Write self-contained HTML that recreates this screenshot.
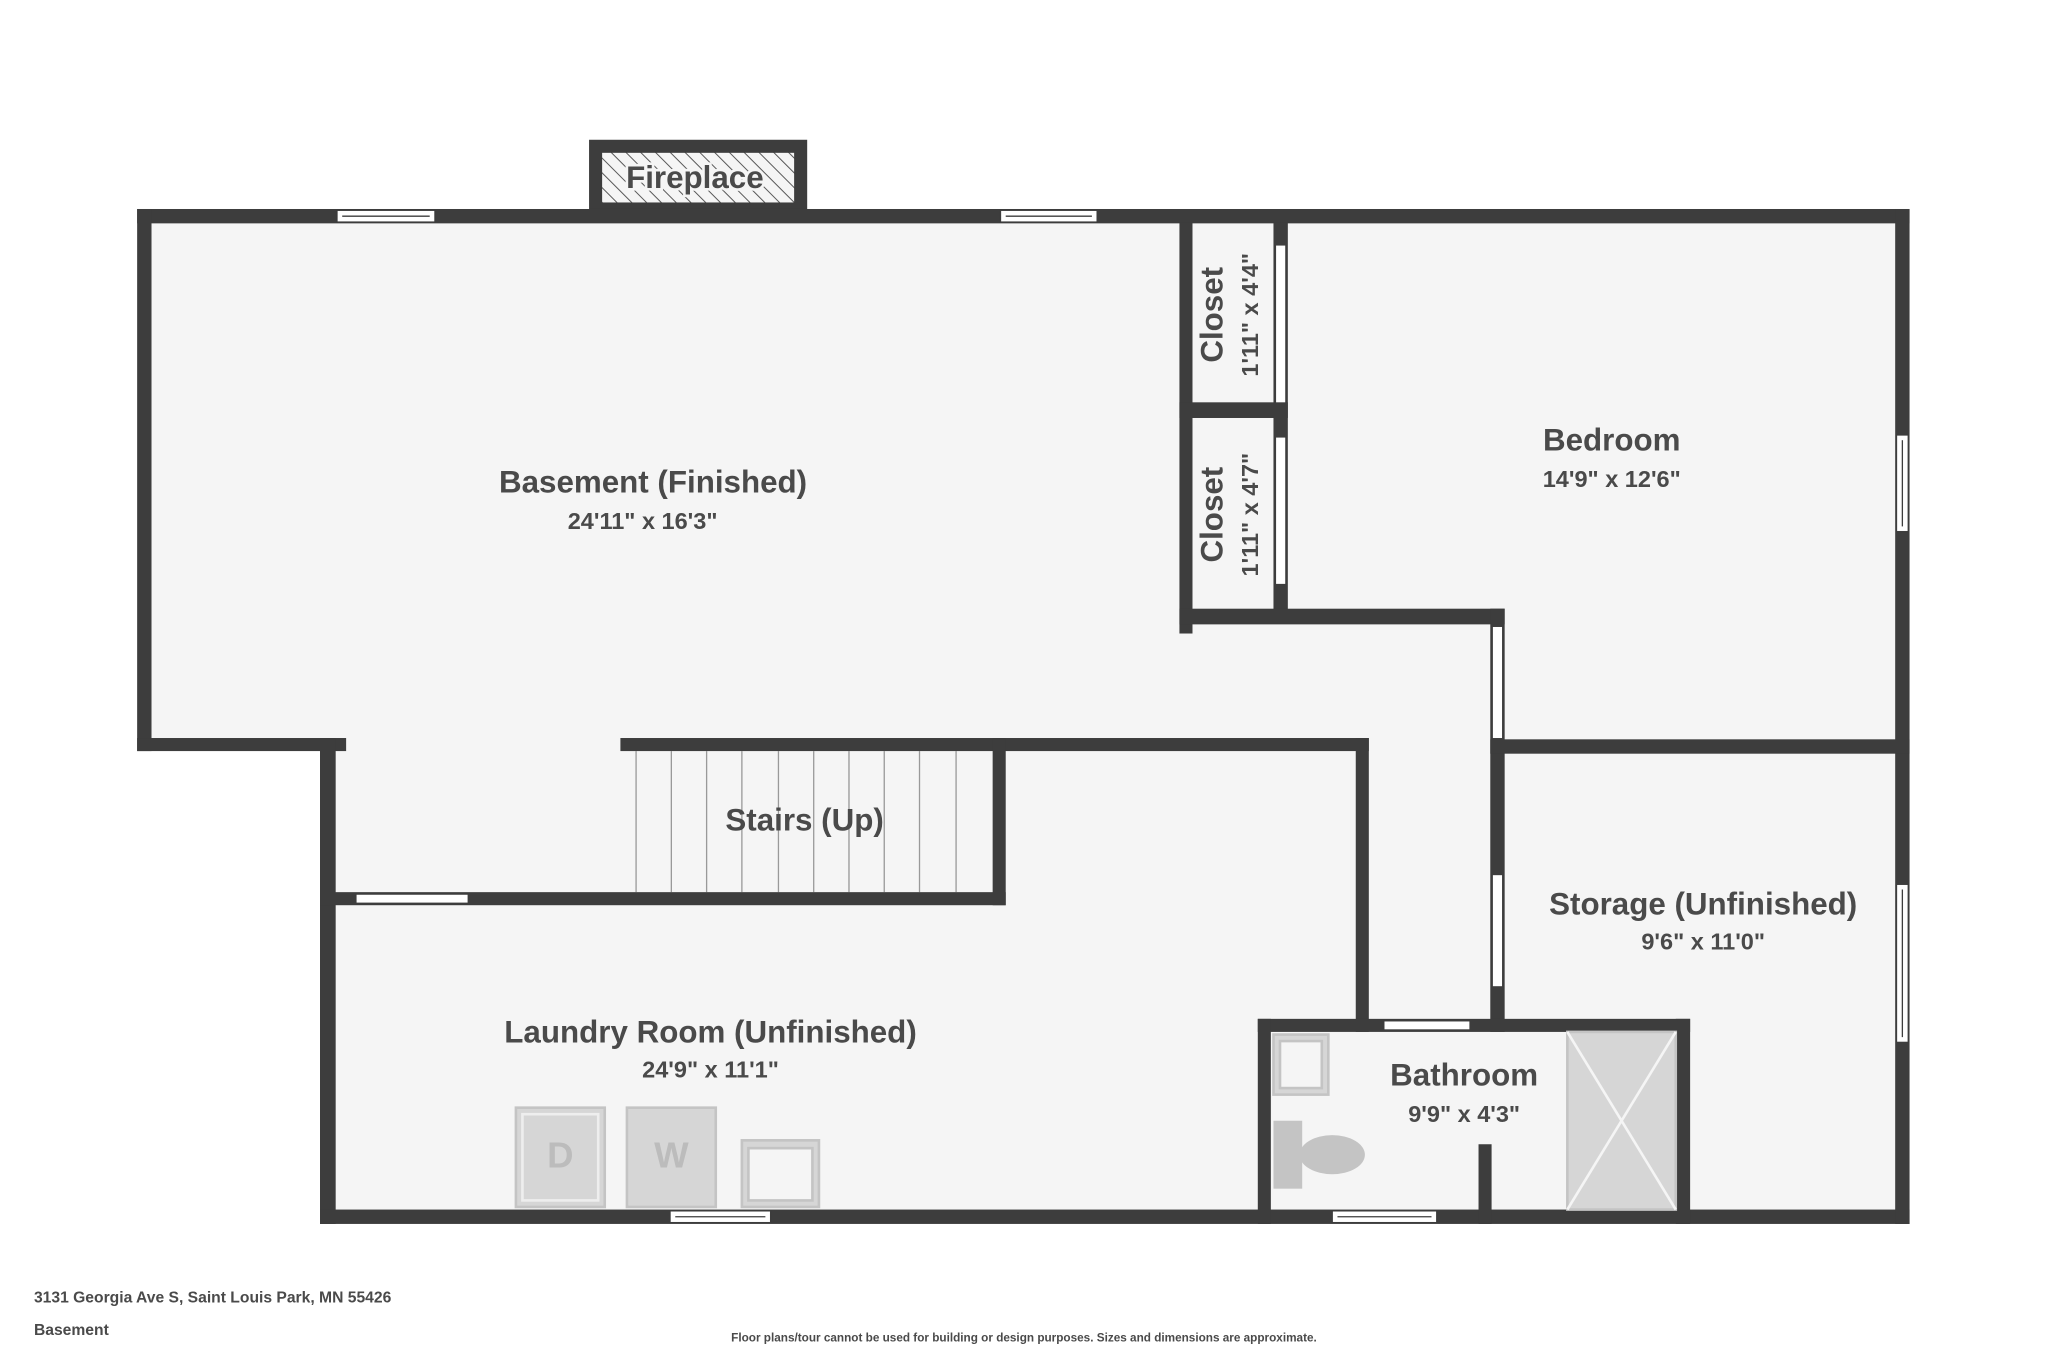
<!DOCTYPE html>
<html><head><meta charset="utf-8"><style>
html,body{margin:0;padding:0;background:#fff}
svg{display:block}
text{font-family:"Liberation Sans","DejaVu Sans",sans-serif;fill:#4a4a4a;font-weight:bold}
</style></head><body>
<svg width="2048" height="1365" viewBox="0 0 1568 1045" preserveAspectRatio="none" xmlns="http://www.w3.org/2000/svg">
<defs>
<pattern id="h" width="8" height="8" patternUnits="userSpaceOnUse" patternTransform="rotate(-45)">
<rect width="8" height="8" fill="#f5f5f5"/><line x1="0" y1="0" x2="0" y2="8" stroke="#555" stroke-width="1.5"/></pattern>
</defs>
<rect width="1568" height="1045" fill="#fff"/>
<g fill="#f5f5f5">
<rect x="110" y="165" width="1347" height="405"/>
<rect x="250" y="565" width="1207" height="367"/>
</g>
<rect x="456" y="112" width="157" height="48" fill="url(#h)" stroke="#3d3d3d" stroke-width="10"/>
<text x="532" y="144" font-size="24" text-anchor="middle" style="paint-order:stroke" stroke="#f5f5f5" stroke-width="4">Fireplace</text>
<g stroke="#999" stroke-width="1">
<line x1="487" y1="575" x2="487" y2="683"/><line x1="514" y1="575" x2="514" y2="683"/><line x1="541" y1="575" x2="541" y2="683"/><line x1="568" y1="575" x2="568" y2="683"/><line x1="596" y1="575" x2="596" y2="683"/><line x1="623" y1="575" x2="623" y2="683"/><line x1="650" y1="575" x2="650" y2="683"/><line x1="677" y1="575" x2="677" y2="683"/><line x1="704" y1="575" x2="704" y2="683"/><line x1="732" y1="575" x2="732" y2="683"/>
</g>
<g fill="#3d3d3d">
<rect x="105" y="160" width="1357" height="11"/>
<rect x="105" y="160" width="11" height="415"/>
<rect x="105" y="565" width="160" height="10"/>
<rect x="245" y="565" width="12" height="372"/>
<rect x="245" y="926" width="1217" height="11"/>
<rect x="1451" y="160" width="11" height="777"/>
<rect x="903" y="170" width="10" height="315"/>
<rect x="975" y="170" width="11" height="298"/>
<rect x="903" y="308" width="83" height="12"/>
<rect x="903" y="466" width="249" height="12"/>
<rect x="1141" y="466" width="11" height="324"/>
<rect x="1141" y="566" width="321" height="11"/>
<rect x="475" y="565" width="573" height="10"/>
<rect x="760" y="565" width="10" height="128"/>
<rect x="245" y="683" width="525" height="10"/>
<rect x="1038" y="565" width="10" height="225"/>
<rect x="963" y="780" width="331" height="10"/>
<rect x="963" y="780" width="10" height="157"/>
<rect x="1283" y="780" width="11" height="157"/>
<rect x="1132" y="876" width="10" height="61"/>
</g>
<g fill="#fff">
<rect x="977" y="188" width="7" height="120"/>
<rect x="977" y="335" width="7" height="112"/>
<rect x="1143" y="480" width="7" height="85"/>
<rect x="1143" y="670" width="7" height="85"/>
<rect x="273" y="685" width="85" height="6"/>
<rect x="1060" y="782" width="65" height="6"/>
</g>
<g fill="#fff" stroke="#3d3d3d" stroke-width="1">
<rect x="258" y="161" width="75" height="9"/><line x1="262" y1="165.5" x2="329" y2="165.5"/>
<rect x="766" y="161" width="74" height="9"/><line x1="770" y1="165.5" x2="836" y2="165.5"/>
<rect x="1452" y="333" width="9" height="74"/><line x1="1456.5" y1="337" x2="1456.5" y2="403"/>
<rect x="1452" y="677" width="9" height="121"/><line x1="1456.5" y1="681" x2="1456.5" y2="794"/>
<rect x="513" y="927" width="77" height="9"/><line x1="517" y1="931.5" x2="586" y2="931.5"/>
<rect x="1020" y="927" width="80" height="9"/><line x1="1024" y1="931.5" x2="1096" y2="931.5"/>
</g>
<g fill="#d6d6d6" stroke="#c4c4c4" stroke-width="2">
<rect x="395" y="848" width="68" height="76"/>
<rect x="480" y="848" width="68" height="76"/>
<rect x="568" y="873" width="59" height="51"/>
<rect x="975" y="792" width="42" height="46"/>
<rect x="1200" y="790" width="83" height="136"/>
</g>
<g fill="#f5f5f5" stroke="#c4c4c4" stroke-width="2">
<rect x="400" y="853" width="58" height="66" fill="none" stroke="#eee"/>
<rect x="573" y="879" width="49" height="40"/>
<rect x="980" y="797" width="32" height="36"/>
</g>
<g stroke="#f5f5f5" stroke-width="2"><line x1="1200" y1="790" x2="1283" y2="926"/><line x1="1283" y1="790" x2="1200" y2="926"/></g>
<g fill="#c4c4c4"><rect x="975" y="858" width="22" height="52"/><ellipse cx="1020" cy="884" rx="25" ry="15"/></g>
<text x="429" y="894" font-size="28" text-anchor="middle" style="fill:#bcbcbc">D</text>
<text x="514" y="894" font-size="28" text-anchor="middle" style="fill:#bcbcbc">W</text>
<g text-anchor="middle">
<text x="500" y="377" font-size="24">Basement (Finished)</text>
<text x="492" y="405" font-size="18">24'11" x 16'3"</text>
<text x="1234" y="345" font-size="24">Bedroom</text>
<text x="1234" y="373" font-size="18">14'9" x 12'6"</text>
<text x="616" y="636" font-size="24">Stairs (Up)</text>
<text x="1304" y="700" font-size="24">Storage (Unfinished)</text>
<text x="1304" y="727" font-size="18">9'6" x 11'0"</text>
<text x="544" y="798" font-size="24">Laundry Room (Unfinished)</text>
<text x="544" y="825" font-size="18">24'9" x 11'1"</text>
<text x="1121" y="831" font-size="24">Bathroom</text>
<text x="1121" y="859" font-size="18">9'9" x 4'3"</text>
<text transform="translate(936,241) rotate(-90)" font-size="24">Closet</text>
<text transform="translate(963,241) rotate(-90)" font-size="18">1'11" x 4'4"</text>
<text transform="translate(936,394) rotate(-90)" font-size="24">Closet</text>
<text transform="translate(963,394) rotate(-90)" font-size="18">1'11" x 4'7"</text>
</g>
<text x="26" y="997" font-size="12">3131 Georgia Ave S, Saint Louis Park, MN 55426</text>
<text x="26" y="1022" font-size="12">Basement</text>
<text x="784" y="1027" font-size="9" text-anchor="middle">Floor plans/tour cannot be used for building or design purposes. Sizes and dimensions are approximate.</text>
</svg>
</body></html>
